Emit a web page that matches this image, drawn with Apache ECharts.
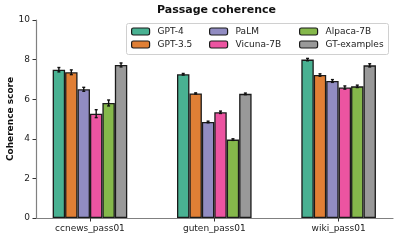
<!DOCTYPE html>
<html><head><meta charset="utf-8">
<script src="https://cdn.jsdelivr.net/npm/echarts@6/dist/echarts.min.js"></script>
<style>html,body{margin:0;padding:0;background:#fff}#c{width:399px;height:240px}</style>
</head><body><div id="c"></div>
<script>
const categories = ['ccnews_pass01', 'guten_pass01', 'wiki_pass01'];
const seriesNames = ['GPT-4', 'GPT-3.5', 'PaLM', 'Vicuna-7B', 'Alpaca-7B', 'GT-examples'];
const colors = ['#49b192', '#e07f35', '#918cc2', '#ec54a1', '#85b84b', '#999999'];
const gpt4 = [7.49, 7.26, 8.00];
const gpt35 = [7.36, 6.29, 7.22];
const palm = [6.50, 4.85, 6.92];
const vicuna = [5.27, 5.34, 6.59];
const alpaca = [5.81, 3.96, 6.65];
const gtExamples = [7.73, 6.27, 7.71];
const gpt4Err = [0.11, 0.04, 0.06];
const gpt35Err = [0.12, 0.03, 0.06];
const palmErr = [0.10, 0.04, 0.07];
const vicunaErr = [0.20, 0.06, 0.08];
const alpacaErr = [0.15, 0.04, 0.06];
const gtErr = [0.10, 0.04, 0.08];
const yTicks = [0, 2, 4, 6, 8, 10];

const values = [gpt4, gpt35, palm, vicuna, alpaca, gtExamples];
const errs = [gpt4Err, gpt35Err, palmErr, vicunaErr, alpacaErr, gtErr];
const FONT = 'DejaVu Sans';
const BAR_FRAC = 0.1;

const series = [];
seriesNames.forEach((n, i) => {
  series.push({
    name: n, type: 'bar', xAxisIndex: 0, yAxisIndex: 0,
    barWidth: '10%', barGap: '0%',
    itemStyle: {color: colors[i], borderColor: '#1a1a1a', borderWidth: 1.3},
    emphasis: {disabled: true},
    data: values[i]
  });
});
const errData = [];
values.forEach((arr, s) => arr.forEach((v, c) => errData.push([c, v, errs[s][c], s])));
series.push({
  type: 'custom', xAxisIndex: 0, yAxisIndex: 0, z: 10, silent: true,
  data: errData,
  renderItem: function (params, api) {
    const c = api.value(0), v = api.value(1), e = api.value(2), s = api.value(3);
    const band = api.size([1, 0])[0];
    const off = (s - 2.5) * band * BAR_FRAC;
    const top = api.coord([c, v + e]);
    const bot = api.coord([c, v - e]);
    const x = top[0] + off;
    const st = {stroke: '#111', lineWidth: 1.4};
    return {type: 'group', children: [
      {type: 'line', shape: {x1: x, y1: top[1], x2: x, y2: bot[1]}, style: st},
      {type: 'line', shape: {x1: x - 1.5, y1: top[1], x2: x + 1.5, y2: top[1]}, style: st},
      {type: 'line', shape: {x1: x - 1.5, y1: bot[1], x2: x + 1.5, y2: bot[1]}, style: st}
    ]};
  }
});

const legendBase = {
  orient: 'vertical', itemWidth: 18, itemHeight: 7, itemGap: 4,
  textStyle: {fontFamily: FONT, fontSize: 9, color: '#222', padding: [0, 0, 0, 3]},
  itemStyle: {borderColor: '#1a1a1a', borderWidth: 1.2},
  selectedMode: false, top: 27, padding: 0
};

const option = {
  animation: false,
  title: {text: 'Passage coherence', left: 157, top: 5, padding: 0,
    textStyle: {fontFamily: FONT, fontSize: 11, fontWeight: 'bold', color: '#111'}},
  legend: [
    Object.assign({}, legendBase, {left: 131, data: [seriesNames[0], seriesNames[1]]}),
    Object.assign({}, legendBase, {left: 209, data: [seriesNames[2], seriesNames[3]]}),
    Object.assign({}, legendBase, {left: 299, data: [seriesNames[4], seriesNames[5]]})
  ],
  graphic: [{type: 'rect', shape: {x: 126.5, y: 23.5, width: 262, height: 31, r: 2},
    style: {fill: 'rgba(255,255,255,0.8)', stroke: '#d0d0d0', lineWidth: 1}, z: 0}],
  grid: [
    {left: 27.8, width: 373, top: 20, height: 198, outerBoundsMode: 'none', containLabel: false},
    {left: 36, right: 6, top: 20, height: 198, outerBoundsMode: 'none', containLabel: false}
  ],
  xAxis: [
    {type: 'category', gridIndex: 0, data: categories,
      axisLine: {show: false},
      axisTick: {show: true, alignWithLabel: true, length: 3.5, lineStyle: {color: '#333'}},
      axisLabel: {fontFamily: FONT, fontSize: 9, color: '#222', margin: 6}},
    {type: 'value', gridIndex: 1, min: 0, max: 1,
      axisLine: {show: true, lineStyle: {color: '#808080', width: 1.2}},
      axisTick: {show: false}, axisLabel: {show: false}, splitLine: {show: false}}
  ],
  yAxis: [
    {type: 'value', gridIndex: 0, min: 0, max: 10, show: false},
    {type: 'value', gridIndex: 1, min: 0, max: 10, interval: 2,
      name: 'Coherence score', nameLocation: 'middle', nameGap: 21, nameRotate: 90,
      nameMoveOverlap: false,
      nameTextStyle: {fontFamily: FONT, fontSize: 9, fontWeight: 'bold', color: '#111'},
      axisLine: {show: true, lineStyle: {color: '#808080', width: 1.2}},
      axisTick: {show: true, length: 3.5, lineStyle: {color: '#333'}},
      axisLabel: {fontFamily: FONT, fontSize: 9, color: '#222', margin: 6,
        customValues: yTicks},
      splitLine: {show: false}}
  ],
  series: series
};
const chart = echarts.init(document.getElementById('c'), null, {renderer: 'canvas'});
chart.setOption(option);
</script></body></html>
